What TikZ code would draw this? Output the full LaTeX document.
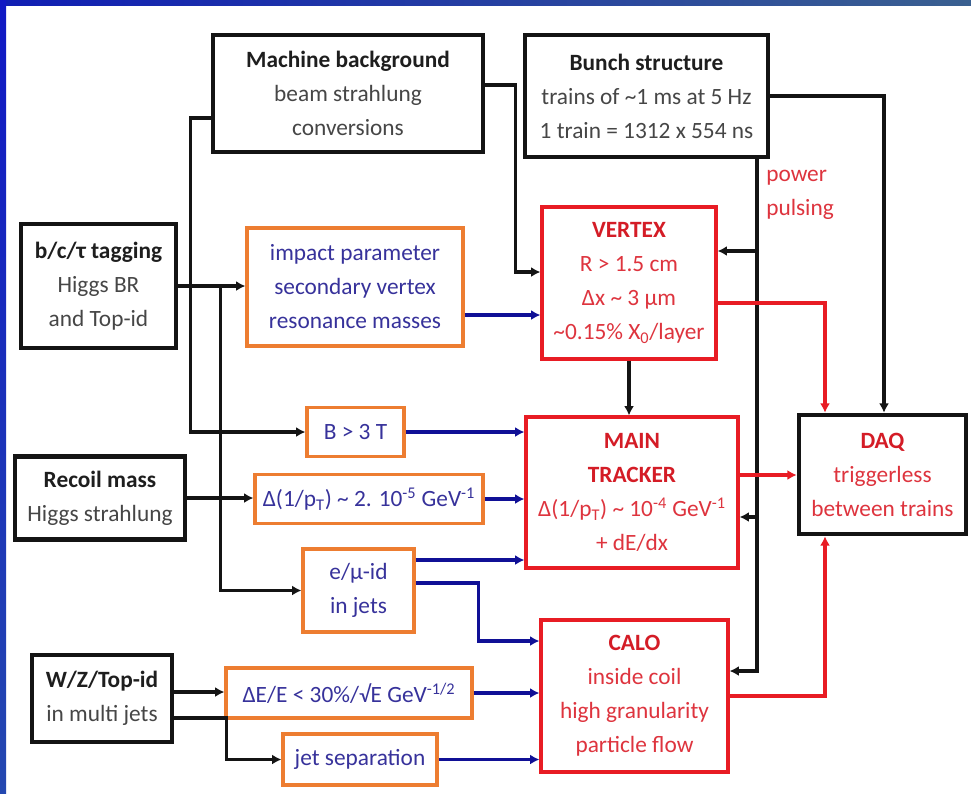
\documentclass[tikz,border=0pt]{standalone}
\usepackage{fontspec}
\setmainfont{Carlito}
\usetikzlibrary{arrows.meta,calc}
\definecolor{lnblack}{RGB}{20,20,20}
\definecolor{myred}{RGB}{232,28,36}
\definecolor{redtxt}{RGB}{222,52,62}
\definecolor{redtitle}{RGB}{212,28,38}
\definecolor{myorange}{RGB}{237,125,49}
\definecolor{mynavy}{RGB}{16,16,150}
\definecolor{bluetxt}{RGB}{55,50,155}
\definecolor{greytxt}{RGB}{70,70,70}
\definecolor{titlecol}{RGB}{30,30,30}
\definecolor{bandA}{RGB}{16,30,180}
\definecolor{bandB}{RGB}{58,96,144}
\definecolor{bandC}{RGB}{16,24,196}
\definecolor{bandD}{RGB}{36,72,176}
\newcommand\fs{\fontsize{17.5}{25.5}\selectfont}
\newcommand\tb[1]{{\bfseries\color{titlecol}#1}}
\newcommand\rtb[1]{{\bfseries\color{redtitle}#1}}
\tikzset{
  base/.style={inner sep=0pt, align=center, font=\fs, fill=white, line join=miter},
  blkbox/.style={base, draw=lnblack, line width=3.4pt, text=greytxt},
  redbox/.style={base, draw=myred, line width=2.4pt, text=redtxt},
  orbox/.style={base, draw=myorange, line width=2.4pt, text=bluetxt},
  sz/.style 2 args={minimum width=#1*0.75pt, minimum height=#2*0.75pt},
  conn/.style={draw=lnblack, line width=2.6pt, line join=miter, -{Latex[length=7pt,width=7.5pt]}},
  bconn/.style={conn, draw=mynavy},
  rconn/.style={conn, draw=myred},
}
\begin{document}
\begin{tikzpicture}[x=0.75pt,y=-0.75pt]
\useasboundingbox (0,0) rectangle (971,793);
\fill[white] (0,0) rectangle (971,793);
\shade[left color=bandA, right color=bandB] (0,0) rectangle (971,5);
\shade[top color=bandC, bottom color=bandD] (0,0) rectangle (6,793);

% boxes
\node[blkbox, sz={270}{117}] (MB) at (348,93.5) {\tb{Machine background}\\beam strahlung\\conversions};
\node[blkbox, sz={243}{122}] (BS) at (646.5,96) {\tb{Bunch structure}\\trains of \textasciitilde1 ms at 5 Hz\\1 train = 1312 x 554 ns};
\node[redbox, sz={174}{152}] (VTX) at (629,283) {\rtb{VERTEX}\\R > 1.5 cm\\Δx \textasciitilde{} 3 μm\\\textasciitilde0.15\% X\textsubscript{0}/layer};
\node[blkbox, sz={155}{124}] (BCT) at (98.5,286) {\tb{b/c/τ tagging}\\Higgs BR\\and Top-id};
\node[orbox, sz={216}{118}] (IP) at (355,287) {impact parameter\\secondary vertex\\resonance masses};
\node[orbox, sz={97}{49}] (B3T) at (355.5,432) {B > 3 T};
\node[blkbox, sz={170}{83}] (RM) at (100,498) {\tb{Recoil mass}\\Higgs strahlung};
\node[orbox, sz={228}{49}] (DPT) at (369,499) {Δ(1/p\textsubscript{T}) \textasciitilde{} 2. 10\textsuperscript{-5} GeV\textsuperscript{-1}};
\node[orbox, sz={111}{83}] (EMU) at (358.5,590.5) {e/μ-id\\in jets};
\node[redbox, sz={212}{151}] (TRK) at (632,492.5) {\rtb{MAIN}\\\rtb{TRACKER}\\Δ(1/p\textsubscript{T}) \textasciitilde{} 10\textsuperscript{-4} GeV\textsuperscript{-1}\\+ dE/dx};
\node[blkbox, text=redtxt, sz={167}{119}] (DAQ) at (882.5,474.5) {\rtb{DAQ}\\triggerless\\between trains};
\node[redbox, sz={187}{152}] (CALO) at (634.5,696) {\rtb{CALO}\\inside coil\\high granularity\\particle flow};
\node[blkbox, sz={140}{87}] (WZ) at (102,698.5) {\tb{W/Z/Top-id}\\in multi jets};
\node[orbox, sz={246}{50}] (DEE) at (349,693) {ΔE/E < 30\%/√E GeV\textsuperscript{-1/2}};
\node[orbox, sz={154}{51}] (JS) at (360,759.5) {jet separation};
\node[font=\fs, text=redtxt, align=left, anchor=north west, inner sep=0pt] (pptxt) at (766,170) {power\\pulsing};

% black connectors
\draw[conn] ($(MB.west)+(0,24.5)$) -- ++(-20,0) |- (B3T.west);
\draw[conn] ($(MB.east)+(0,-8.5)$) -- ++(30,0) |- ($(VTX.west)+(0,-11)$);
\draw[conn] (BCT.east) -- (BCT.east -| IP.west);
\draw[conn] ($(BCT.east)+(42,0)$) |- (EMU.west);
\draw[conn] (RM.east) -- (RM.east -| DPT.west);
\coordinate (wz1) at ($(WZ.east)+(0,-6.5)$);
\draw[conn] (wz1) -- (wz1 -| DEE.west);
\draw[conn] ($(WZ.east)+(0,19.5)$) -- ++(52,0) |- (JS.west);
\draw[conn] (BS.east) -| ($(DAQ.north)+(1.5,0)$);
\coordinate (pp) at ($(BS.south)+(110.5,0)$);
\draw[conn] (pp) |- ($(CALO.east)+(0,-25)$);
\coordinate (va) at ($(VTX.east)+(0,-32)$);
\draw[conn] (va -| pp) -- (va);
\coordinate (ta) at ($(TRK.east)+(0,24.5)$);
\draw[conn] (ta -| pp) -- (ta);
\draw[conn] (VTX.south) -- (VTX.south |- TRK.north);

% blue connectors
\coordinate (ipo) at ($(IP.east)+(0,28)$);
\draw[bconn] (ipo) -- (ipo -| VTX.west);
\draw[bconn] (B3T.east) -- (B3T.east -| TRK.west);
\draw[bconn] (DPT.east) -- (DPT.east -| TRK.west);
\coordinate (em1) at ($(EMU.east)+(0,-30.5)$);
\draw[bconn] (em1) -- (em1 -| TRK.west);
\draw[bconn] ($(EMU.east)+(0,-7.5)$) -- ++(63,0) |- ($(CALO.west)+(0,-55)$);
\draw[bconn] (DEE.east) -- (DEE.east -| CALO.west);
\draw[bconn] (JS.east) -- (JS.east -| CALO.west);

% red connectors
\coordinate (ve) at ($(VTX.east)+(0,20)$);
\draw[rconn] (ve) -| ($(DAQ.north)+(-57.5,0)$);
\coordinate (te) at ($(TRK.east)+(0,-17.5)$);
\draw[rconn] (te) -- (te -| DAQ.west);
\draw[rconn] (CALO.east) -| ($(DAQ.south)+(-57.5,0)$);
\end{tikzpicture}
\end{document}
